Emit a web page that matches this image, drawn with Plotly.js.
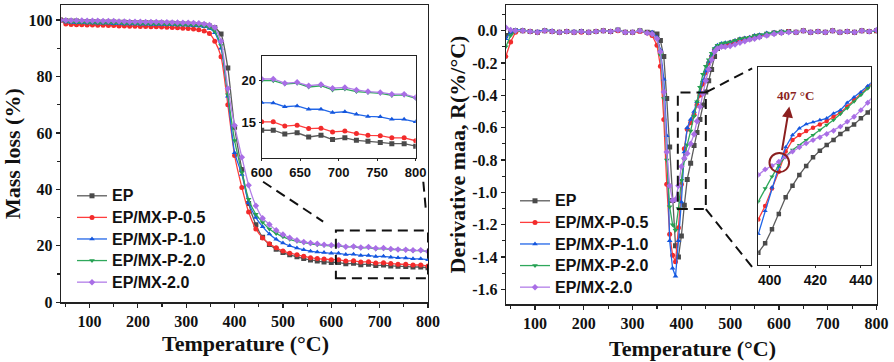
<!DOCTYPE html>
<html>
<head>
<meta charset="utf-8">
<script src="https://cdn.plot.ly/plotly-3.0.1.min.js"></script>
<style>html,body{margin:0;padding:0;background:#fff;}#chart{width:894px;height:362px;}</style>
</head>
<body>
<div id="chart"></div>
<script>
// ---------- DATA ----------
const seriesNames = ['EP', 'EP/MX-P-0.5', 'EP/MX-P-1.0', 'EP/MX-P-2.0', 'EP/MX-2.0'];

// TGA (mass loss, %)
const tgaT = [40,51,62,73,84,95,106,117,128,139,150,161,172,183,194,205,216,227,238,249,260,271,282,293,304,315,326,337,348,359,
  372,386,400,415,429,444,458,472,486,500,514,529,543,557,571,585,
  600,615,630,646,661,677,692,708,723,738,754,769,785,800];
const tgaEP = [100,99.7,99.6,99.6,99.5,99.5,99.4,99.4,99.3,99.3,99.3,99.2,99.2,99.1,99.1,99.0,99.0,99.0,98.9,98.9,98.8,98.8,98.7,98.7,98.6,98.5,98.4,98.2,97.9,97.2,
  95,83,62,47,35,27.5,23,20.5,18.8,17.6,16.8,16.1,15.5,15.0,14.6,14.3,
  14.1,14.1,13.65,13.8,13.3,13.5,13.0,13.2,12.9,12.8,12.65,12.5,12.5,12.2];
const tgaP05 = [100,98.6,98.4,98.3,98.3,98.2,98.2,98.1,98.1,98.0,98.0,97.9,97.9,97.8,97.8,97.7,97.7,97.6,97.6,97.5,97.4,97.3,97.2,97.1,97.0,96.8,96.5,96.1,95.2,92.5,
  87,70,52,40.7,32,26,22.8,20.7,19.3,18.2,17.4,16.8,16.3,15.8,15.5,15.3,
  15.1,15.1,14.6,14.7,14.3,14.35,13.9,14.0,13.7,13.5,13.45,13.2,13.2,12.85];
const tgaP10 = [100,99.3,99.1,99.0,99.0,98.9,98.9,98.8,98.8,98.8,98.7,98.7,98.6,98.6,98.6,98.5,98.5,98.4,98.4,98.4,98.3,98.3,98.2,98.2,98.1,98.0,97.9,97.6,97.0,95.5,
  90,73,53,45.3,35.3,30,26.8,24.2,22.3,21.0,20.0,19.2,18.6,18.1,17.8,17.6,
  17.4,17.35,16.9,17.0,16.6,16.6,16.2,16.3,16.0,15.75,15.7,15.4,15.4,15.1];
const tgaP20 = [100,99.4,99.2,99.1,99.1,99.0,99.0,98.9,98.9,98.9,98.8,98.8,98.7,98.7,98.7,98.6,98.6,98.5,98.5,98.5,98.4,98.4,98.3,98.3,98.2,98.1,98.0,97.8,97.3,96.0,
  91,73.5,57.3,46,36.5,31.2,28.3,26,24.4,23.2,22.3,21.6,21.1,20.7,20.4,20.2,
  20.0,20.0,19.6,19.7,19.25,19.4,18.9,19.0,18.7,18.6,18.5,18.25,18.3,17.9];
const tgaMX20 = [100,99.9,99.8,99.8,99.8,99.7,99.7,99.7,99.6,99.6,99.6,99.5,99.5,99.4,99.4,99.4,99.3,99.3,99.3,99.2,99.2,99.1,99.1,99.0,99.0,98.9,98.8,98.6,98.2,97.3,
  92.5,75.7,62.6,51.4,41.5,34.2,29.8,27.6,25.5,24.0,22.9,22.0,21.4,21.0,20.7,20.4,
  20.2,20.2,19.7,19.8,19.4,19.55,19.1,19.2,18.9,18.7,18.6,18.4,18.4,18.0];

// DTG (derivative mass, %/°C)
const dtgT = [40,50,60,75,90,105,120,135,150,165,180,195,210,225,240,255,270,285,300,315,330,340,350,
  357,364,370,376,382,388,394,400,406,412,
  419,426,432,438,444,450,456,462,468,474,482,490,
  500,510,520,530,540,550,560,575,590,605,620,635,650,665,680,695,710,725,740,755,770,785,800];
const dtgEP = [-0.03,-0.01,0,0,-0.005,-0.01,0,-0.005,-0.01,-0.005,-0.01,-0.005,-0.01,-0.005,0,-0.005,0.005,-0.01,-0.01,0,-0.01,-0.015,-0.02,
  -0.06,-0.16,-0.42,-0.72,-1.05,-1.33,-1.40,-1.27,-1.08,-0.92,
  -0.82,-0.71,-0.63,-0.55,-0.46,-0.38,-0.31,-0.24,-0.16,-0.11,-0.095,-0.09,
  -0.08,-0.07,-0.06,-0.055,-0.05,-0.04,-0.035,-0.025,-0.015,-0.01,-0.005,-0.01,0,-0.01,-0.005,-0.01,0,-0.01,-0.005,-0.01,0,-0.005,0];
const dtgP05 = [-0.16,-0.07,-0.01,0,-0.005,-0.01,0,-0.005,-0.01,-0.005,-0.01,-0.01,-0.01,-0.005,0,-0.005,0,-0.01,-0.01,-0.005,-0.015,-0.03,-0.09,
  -0.22,-0.55,-0.95,-1.26,-1.39,-1.43,-1.22,-0.95,-0.73,-0.61,
  -0.57,-0.52,-0.46,-0.40,-0.33,-0.26,-0.20,-0.16,-0.12,-0.10,-0.09,-0.085,
  -0.075,-0.065,-0.055,-0.05,-0.045,-0.035,-0.03,-0.02,-0.015,-0.01,-0.005,-0.01,0,-0.01,-0.005,-0.01,0,-0.01,-0.005,-0.01,0,-0.005,0];
const dtgP10 = [-0.05,-0.01,0.005,0.005,-0.005,-0.005,0.005,0,-0.01,-0.005,-0.005,-0.005,-0.01,-0.005,0,-0.005,0.005,-0.01,-0.01,0,-0.015,-0.01,-0.04,
  -0.12,-0.30,-0.65,-1.30,-1.47,-1.52,-1.30,-1.06,-0.75,-0.60,
  -0.55,-0.50,-0.44,-0.38,-0.31,-0.25,-0.19,-0.15,-0.11,-0.09,-0.08,-0.075,
  -0.07,-0.06,-0.05,-0.045,-0.04,-0.03,-0.025,-0.015,-0.01,-0.005,-0.005,-0.01,0,-0.01,-0.005,-0.01,0,-0.01,-0.005,-0.01,0,-0.005,0];
const dtgP20 = [-0.1,-0.03,-0.005,0,-0.005,-0.01,0,-0.005,-0.01,-0.005,-0.01,-0.005,-0.01,-0.005,0,-0.005,0.005,-0.01,-0.01,0,-0.015,-0.02,-0.05,
  -0.15,-0.42,-0.80,-1.09,-1.20,-1.235,-1.10,-0.925,-0.80,-0.705,
  -0.62,-0.53,-0.44,-0.35,-0.27,-0.22,-0.18,-0.14,-0.11,-0.09,-0.08,-0.075,
  -0.07,-0.06,-0.05,-0.045,-0.04,-0.03,-0.025,-0.015,-0.01,-0.005,-0.005,-0.01,0,-0.01,-0.005,-0.01,0,-0.01,-0.005,-0.01,0,-0.005,0];
const dtgMX20 = [0.02,0.005,0,0,-0.005,-0.01,0,-0.005,-0.01,-0.005,-0.01,-0.005,-0.01,-0.005,0,-0.005,0.005,-0.01,-0.01,0,-0.015,-0.02,-0.05,
  -0.13,-0.38,-0.75,-0.96,-1.05,-1.045,-0.96,-0.84,-0.79,-0.76,
  -0.70,-0.64,-0.56,-0.47,-0.39,-0.31,-0.24,-0.18,-0.13,-0.11,-0.10,-0.10,
  -0.095,-0.085,-0.075,-0.065,-0.055,-0.05,-0.04,-0.03,-0.02,-0.015,-0.01,-0.01,0,-0.01,-0.005,-0.01,0,-0.01,-0.005,-0.01,0,-0.005,0.005];

// DTG inset (zoomed view, 395-445 °C)
const zoomT = [395,398,401,404,407,410,413,416,419,422,425,428,431,434,437,440,443,446];
const zoomEP = [-1.055,-1.021,-0.970,-0.914,-0.853,-0.811,-0.772,-0.739,-0.708,-0.684,-0.663,-0.645,-0.623,-0.605,-0.588,-0.566,-0.545,-0.515];
const zoomP05 = [-0.934,-0.885,-0.821,-0.760,-0.687,-0.645,-0.627,-0.612,-0.600,-0.588,-0.576,-0.560,-0.545,-0.523,-0.499,-0.475,-0.453,-0.43];
const zoomP10 = [-0.987,-0.903,-0.817,-0.742,-0.671,-0.627,-0.602,-0.587,-0.580,-0.572,-0.566,-0.548,-0.536,-0.509,-0.489,-0.471,-0.448,-0.425];
const zoomP20 = [-0.869,-0.821,-0.778,-0.736,-0.705,-0.681,-0.663,-0.645,-0.627,-0.608,-0.590,-0.572,-0.550,-0.529,-0.505,-0.481,-0.457,-0.435];
const zoomMX20 = [-0.772,-0.752,-0.739,-0.724,-0.705,-0.687,-0.671,-0.657,-0.645,-0.635,-0.623,-0.611,-0.596,-0.578,-0.560,-0.536,-0.509,-0.48];

const tempTicks = [100,200,300,400,500,600,700,800];
const massTicks = [0,20,40,60,80,100];
const dtgTickVals = [0,-0.2,-0.4,-0.6,-0.8,-1.0,-1.2,-1.4,-1.6];
const dtgTickText = ['0.0','-0.2','-0.4','-0.6','-0.8','-1.0','-1.2','-1.4','-1.6'];
const insetTempTicks = [600,650,700,750,800];
const insetMassTicks = [15,20];
const zoomTempTicks = [400,420,440];
const annotText = '407 °C';

// ---------- STYLE ----------
const lineColors = ['#5c5c5c', '#ff3d3d', '#2166e8', '#2fa85c', '#b27ee8'];
const markColors = ['#4a4a4a', '#f22b2b', '#1456dd', '#25a052', '#a96ee6'];
const symbols = ['square', 'circle', 'triangle-up', 'triangle-down', 'diamond'];
const serif = 'Liberation Serif';
const sans = 'Liberation Sans';

const tgaSets = [tgaEP, tgaP05, tgaP10, tgaP20, tgaMX20];
const dtgSets = [dtgEP, dtgP05, dtgP10, dtgP20, dtgMX20];
const zoomSets = [zoomEP, zoomP05, zoomP10, zoomP20, zoomMX20];

// legend label: glyphs drawn at 16px while rows keep a tighter pitch
const legendLabel = s => '<span style="font-size:16px">' + s + '</span>';

const traces = [];
function mk(x, y, i, xa, ya, opts) {
  return Object.assign({
    type: 'scatter', mode: 'lines+markers', x: x, y: y, name: legendLabel(seriesNames[i]),
    xaxis: xa, yaxis: ya,
    line: {color: lineColors[i], width: 1.3},
    marker: {symbol: symbols[i], size: 5, color: markColors[i]}
  }, opts);
}
for (let i = 0; i < 5; i++) {
  traces.push(mk(tgaT, tgaSets[i], i, 'x', 'y', {legend: 'legend', line: {color: lineColors[i], width: 1.3, shape: 'spline', smoothing: 0.6}}));
}
for (let i = 0; i < 5; i++) {
  traces.push(mk(tgaT, tgaSets[i], i, 'x2', 'y2', {showlegend: false}));
}
for (let i = 0; i < 5; i++) {
  traces.push(mk(dtgT, dtgSets[i], i, 'x3', 'y3', {legend: 'legend2'}));
}
for (let i = 0; i < 5; i++) {
  traces.push(mk(zoomT, zoomSets[i], i, 'x4', 'y4', {showlegend: false, marker: {symbol: symbols[i], size: 4.5, color: markColors[i]}}));
}

const W = 894, H = 362;
const px = v => v / W;
const py = v => 1 - v / H;

const mainAxis = {
  showline: true, mirror: true, linecolor: '#222', linewidth: 1.3,
  ticks: 'outside', ticklen: 4, tickwidth: 1.2, tickcolor: '#222',
  showgrid: false, zeroline: false,
  tickfont: {family: serif, size: 16, color: '#111', weight: 'bold'}
};
const insetAxis = {
  showline: true, mirror: true, linecolor: '#222', linewidth: 1.1,
  ticks: 'outside', ticklen: 2, tickwidth: 1, tickcolor: '#222',
  showgrid: false, zeroline: false,
  tickfont: {family: sans, size: 13, color: '#111', weight: 'bold'}
};

const dashLine = {color: '#111', width: 2, dash: '10px,6px'};
const darkRed = '#8b1f1f';
const legendFont = {family: sans, size: 14.3, color: '#111', weight: 'bold'};

const layout = {
  width: W, height: H,
  margin: {l: 0, r: 0, t: 0, b: 0},
  paper_bgcolor: '#fff', plot_bgcolor: 'rgba(0,0,0,0)',
  showlegend: true,
  xaxis: Object.assign({}, mainAxis, {domain: [px(61), px(428)], range: [41, 800], anchor: 'y',
    tickmode: 'array', tickvals: tempTicks,
    minor: {tickmode: 'linear', tick0: 0, dtick: 50, ticks: 'outside', ticklen: 3, tickcolor: '#222', showgrid: false}}),
  yaxis: Object.assign({}, mainAxis, {domain: [py(302.3), py(5)], range: [0, 105.3], anchor: 'x',
    tickmode: 'array', tickvals: massTicks,
    minor: {tickmode: 'linear', tick0: 0, dtick: 10, ticks: 'outside', ticklen: 3, tickcolor: '#222', showgrid: false}}),
  xaxis2: Object.assign({}, insetAxis, {domain: [px(261.7), px(415.7)], range: [600, 800], anchor: 'y2',
    tickmode: 'array', tickvals: insetTempTicks}),
  yaxis2: Object.assign({}, insetAxis, {domain: [py(158.3), py(56)], range: [10.76, 22.94], anchor: 'x2',
    tickmode: 'array', tickvals: insetMassTicks}),
  xaxis3: Object.assign({}, mainAxis, {domain: [px(506), px(877)], range: [40.5, 801], anchor: 'y3',
    tickmode: 'array', tickvals: tempTicks,
    minor: {tickmode: 'linear', tick0: 0, dtick: 50, ticks: 'outside', ticklen: 3, tickcolor: '#222', showgrid: false}}),
  yaxis3: Object.assign({}, mainAxis, {domain: [py(304.3), py(5)], range: [-1.693, 0.159], anchor: 'x3',
    tickmode: 'array', tickvals: dtgTickVals, ticktext: dtgTickText,
    minor: {tickmode: 'linear', tick0: 0, dtick: 0.1, ticks: 'outside', ticklen: 3, tickcolor: '#222', showgrid: false}}),
  xaxis4: Object.assign({}, insetAxis, {domain: [px(758.3), px(870.7)], range: [395, 444.3], anchor: 'y4',
    tickmode: 'array', tickvals: zoomTempTicks, tickfont: {family: sans, size: 14, color: '#111', weight: 'bold'}}),
  yaxis4: Object.assign({}, insetAxis, {domain: [py(265), py(67.3)], range: [-1.1, -0.38], anchor: 'x4',
    showticklabels: false, ticks: ''}),
  legend: {x: px(72), y: py(180), xanchor: 'left', yanchor: 'top', bgcolor: 'rgba(0,0,0,0)',
    font: legendFont, tracegroupgap: 0, itemwidth: 30},
  legend2: {x: px(515), y: py(185), xanchor: 'left', yanchor: 'top', bgcolor: 'rgba(0,0,0,0)',
    font: legendFont, tracegroupgap: 0, itemwidth: 30},
  shapes: [
    {type: 'rect', xref: 'x', yref: 'y', x0: 609.5, x1: 800, y0: 8.5, y1: 25.4, line: dashLine},
    {type: 'line', xref: 'x', yref: 'y', x0: 458.9, y0: 42.7, x1: 583.2, y1: 28.6, line: dashLine},
    {type: 'line', xref: 'x', yref: 'y', x0: 790.3, y0: 42.7, x1: 795.9, y1: 32.1, line: dashLine},
    {type: 'rect', xref: 'x3', yref: 'y3', x0: 392.7, x1: 450.1, y0: -1.104, y1: -0.382, line: dashLine},
    {type: 'line', xref: 'x3', yref: 'y3', x0: 450.1, y0: -0.382, x1: 545, y1: -0.233, line: dashLine},
    {type: 'line', xref: 'x3', yref: 'y3', x0: 450.1, y0: -1.104, x1: 545, y1: -1.462, line: dashLine},
    {type: 'circle', xref: 'x4', yref: 'y4', x0: 399.9, x1: 408.5, y0: -0.762, y1: -0.692, line: {color: darkRed, width: 2}}
  ],
  annotations: [
    {xref: 'paper', yref: 'paper', x: px(245.5), y: py(343), xanchor: 'center', yanchor: 'middle', showarrow: false,
      text: 'Temperature (°C)', font: {family: serif, size: 22, color: '#111', weight: 'bold'}},
    {xref: 'paper', yref: 'paper', x: px(692), y: py(348), xanchor: 'center', yanchor: 'middle', showarrow: false,
      text: 'Temperature (°C)', font: {family: serif, size: 22, color: '#111', weight: 'bold'}},
    {xref: 'paper', yref: 'paper', x: px(12), y: py(154), xanchor: 'center', yanchor: 'middle', showarrow: false, textangle: -90,
      text: 'Mass loss (%)', font: {family: serif, size: 22, color: '#111', weight: 'bold'}},
    {xref: 'paper', yref: 'paper', x: px(456.5), y: py(155), xanchor: 'center', yanchor: 'middle', showarrow: false, textangle: -90,
      text: 'Derivative maa, R(%/°C)', font: {family: serif, size: 22, color: '#111', weight: 'bold'}},
    {xref: 'x4', yref: 'y4', x: 408.6, y: -0.523, axref: 'x4', ayref: 'y4', ax: 405.3, ay: -0.687,
      text: '', showarrow: true, arrowhead: 2, arrowsize: 1.1, arrowwidth: 2, arrowcolor: darkRed, standoff: 0, startstandoff: 0},
    {xref: 'x4', yref: 'y4', x: 411.1, y: -0.481, xanchor: 'center', yanchor: 'middle', showarrow: false,
      text: annotText, font: {family: serif, size: 13, color: darkRed, weight: 'bold'}}
  ]
};

Plotly.newPlot('chart', traces, layout, {displayModeBar: false, staticPlot: true});
</script>
</body>
</html>
